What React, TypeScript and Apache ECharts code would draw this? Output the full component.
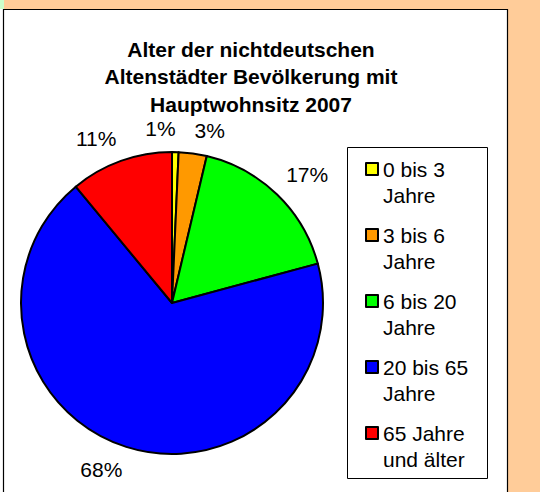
import React, { useEffect, useRef } from 'react';
import * as echarts from 'echarts';

const categories = ['0 bis 3\nJahre', '3 bis 6\nJahre', '6 bis 20\nJahre', '20 bis 65\nJahre', '65 Jahre\nund älter'];
const values = [0.7, 3.0, 17.1, 68.2, 11.0];
const colors = ['#FFFF00', '#FF9900', '#00FF00', '#0000FF', '#FF0000'];
const titleLines = ['Alter der nichtdeutschen', 'Altenstädter Bevölkerung mit', 'Hauptwohnsitz 2007'];

const FONT = '"Liberation Sans", Arial, Helvetica, sans-serif';
const CX = 172;
const CY = 303;
const R = 151;
const LABEL_OFFSET = 13;
const LABEL_FS = 21;
const TITLE_FS = 21;
const TITLE_CENTER_X = 251;

export default function App() {
  const ref = useRef<HTMLDivElement>(null);

  useEffect(() => {
    const chart = echarts.init(ref.current!, null, { renderer: 'svg' });
    const total = values.reduce((a, b) => a + b, 0);
    const texts = values.map((v) => Math.round((v / total) * 100) + '%');
    const ctx = document.createElement('canvas').getContext('2d')!;
    ctx.font = `${LABEL_FS}px ${FONT}`;
    let cum = 0;
    const boxes = values.map((v, i) => {
      const a = ((cum + v / 2) / total) * Math.PI * 2;
      cum += v;
      const ux = Math.sin(a);
      const uy = -Math.cos(a);
      const w = ctx.measureText(texts[i]).width;
      const h = LABEL_FS;
      const px = CX + (R + LABEL_OFFSET) * ux;
      const py = CY + (R + LABEL_OFFSET) * uy;
      const left = ux >= 0 ? px : px - w;
      const top = uy < 0 ? py - h : py;
      return { left, top, w, h };
    });
    for (let i = boxes.length - 2; i >= 0; i--) {
      const a = boxes[i];
      const b = boxes[i + 1];
      const ov = a.left < b.left + b.w && b.left < a.left + a.w && a.top < b.top + b.h && b.top < a.top + a.h;
      if (ov) a.left = a.left - a.w;
    }

    chart.setOption({
      animation: false,
      backgroundColor: 'transparent',
      graphic: [
        { type: 'rect', z: -10, shape: { x: 0, y: 0, width: 4, height: 9 }, style: { fill: '#CCFFCC' } },
        { type: 'rect', z: -10, shape: { x: 0, y: 9, width: 508, height: 483 }, style: { fill: '#FFFFFF' } },
        {
          type: 'polyline',
          z: -9,
          shape: { points: [[3.5, 492], [3.5, 9.5], [507.5, 9.5], [507.5, 492]] },
          style: { stroke: '#000', lineWidth: 1.2, fill: null },
        },
        {
          type: 'rect',
          z: -9,
          shape: { x: 347.5, y: 147.5, width: 140, height: 331 },
          style: { fill: '#FFFFFF', stroke: '#000', lineWidth: 1 },
        },
      ],
      title: {
        text: titleLines.join('\n'),
        left: TITLE_CENTER_X,
        top: 35.6,
        padding: 0,
        textAlign: 'center',
        textStyle: {
          fontSize: TITLE_FS,
          fontWeight: 'bold',
          lineHeight: 27.5,
          color: '#000',
          fontFamily: FONT,
        },
      },
      legend: {
        orient: 'vertical',
        left: 365,
        top: 130,
        padding: 0,
        itemWidth: 12,
        itemHeight: 12,
        itemGap: -12,
        selectedMode: false,
        icon: 'rect',
        data: categories,
        formatter: (name: string) => '\n' + name,
        itemStyle: { borderColor: '#000', borderWidth: 2 },
        textStyle: {
          fontSize: 21,
          lineHeight: 26,
          color: '#000',
          fontFamily: FONT,
        },
      },
      series: [
        {
          type: 'pie',
          center: [CX, CY],
          radius: R,
          startAngle: 90,
          clockwise: true,
          avoidLabelOverlap: false,
          emphasis: { disabled: true },
          itemStyle: { borderColor: '#000', borderWidth: 2 },
          label: {
            show: true,
            position: 'outside',
            formatter: (p: any) => texts[p.dataIndex],
            fontSize: LABEL_FS,
            color: '#000',
            fontFamily: FONT,
          },
          labelLine: { show: false },
          labelLayout: (p: any) => {
            const b = boxes[p.dataIndex];
            return { x: b.left + b.w / 2, y: b.top + b.h / 2, align: 'center', verticalAlign: 'middle' };
          },
          data: categories.map((n, i) => ({ name: n, value: values[i], itemStyle: { color: colors[i] } })),
        },
      ],
    });
    return () => chart.dispose();
  }, []);

  return (
    <div style={{ position: 'absolute', left: 0, top: 0, width: 540, height: 492, background: '#FFCC99' }}>
      <div ref={ref} style={{ width: 540, height: 492 }} />
    </div>
  );
}
